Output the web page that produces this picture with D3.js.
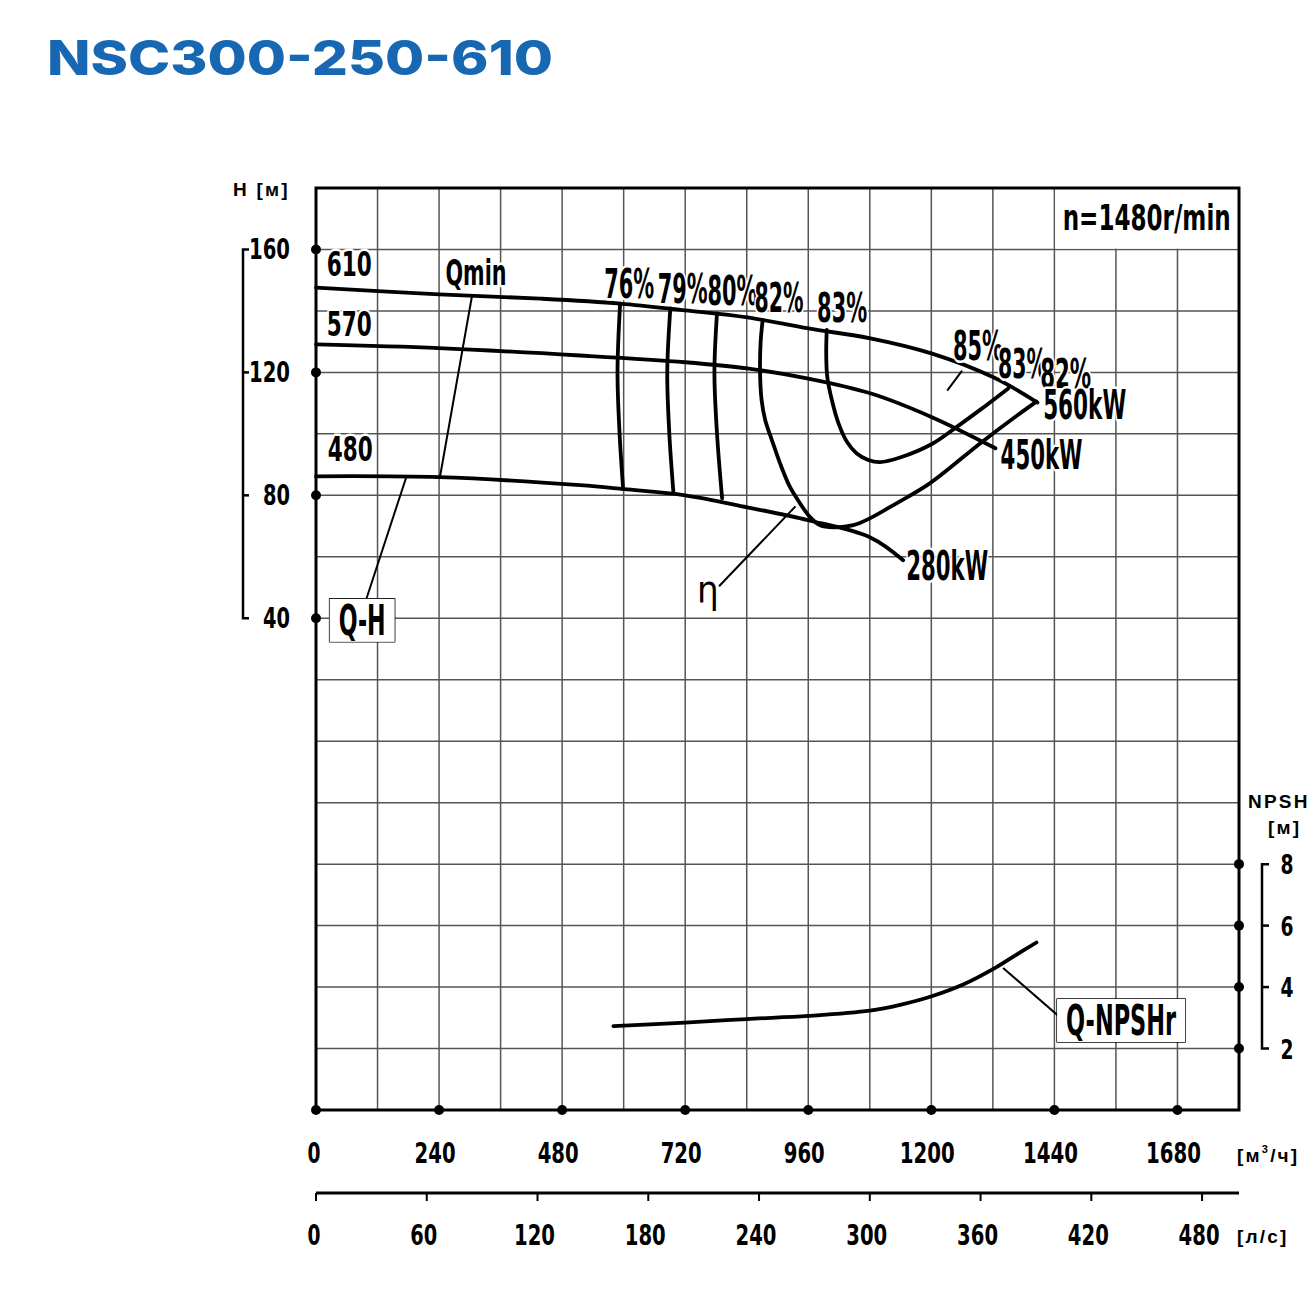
<!DOCTYPE html>
<html>
<head>
<meta charset="utf-8">
<script src="https://cdn.jsdelivr.net/npm/d3@7"></script>
<style>
  body { margin: 0; background: #fff; }
</style>
</head>
<body>
<svg width="1310" height="1295"></svg>
<script>
(function (d3) {
  'use strict';

  // ---- data ----
  const qTicks = [0, 240, 480, 720, 960, 1200, 1440, 1680];      // m3/h
  const lsTicks = [0, 60, 120, 180, 240, 300, 360, 420, 480];    // l/s
  const hTicks = [160, 120, 80, 40];                              // m
  const npshTicks = [8, 6, 4, 2];                                 // m

  // Q-H curves per impeller diameter
  const q610 = [0, 240, 437, 593, 720, 841, 960, 1081, 1200, 1321, 1407];
  const h610 = [147.6, 145.4, 144.0, 142.4, 140.2, 137.9, 134.3, 131.1, 126.2, 118.4, 110.2];
  const q570 = [0, 240, 515, 720, 841, 960, 1081, 1200, 1325];
  const h570 = [129.1, 127.9, 125.5, 123.3, 121.3, 118.0, 113.2, 105.5, 95.3];
  const q480 = [0, 240, 515, 601, 720, 841, 960, 1081, 1145];
  const h480 = [86.2, 85.9, 83.3, 82.0, 80.0, 76.1, 71.9, 66.3, 58.9];

  // iso-efficiency lines
  const q76 = [593, 588, 592, 599];
  const h76 = [142.4, 120, 100.2, 82.0];
  const q79 = [691, 685, 689, 697];
  const h79 = [140.8, 120, 100.2, 81.0];
  const q80 = [782, 777, 782, 792];
  const h80 = [139.2, 120, 100.2, 79.0];
  const q82 = [871, 867, 866, 869, 876, 889, 905, 924, 944, 963, 983, 1009, 1048, 1080, 1132, 1197, 1295, 1360, 1405];
  const h82 = [137.0, 129.5, 119.7, 111.0, 104.5, 98.0, 90.4, 82.8, 77.4, 73.0, 70.3, 69.6, 70.3, 72.5, 77.4, 83.9, 96.9, 105.1, 110.5];
  const q83 = [996, 995, 997, 1006, 1019, 1035, 1054, 1077, 1100, 1139, 1201, 1249, 1295, 1350];
  const h83 = [133.8, 126.2, 118.6, 111.0, 103.4, 97.5, 93.7, 91.5, 90.8, 92.3, 96.7, 102.2, 107.8, 114.8];
  const q85 = [1231, 1260];
  const h85 = [114.1, 120.6];

  // Q-NPSHr
  const qNpsh = [580, 720, 840, 960, 1080, 1139, 1201, 1262, 1321, 1360, 1405];
  const vNpsh = [2.73, 2.84, 2.96, 3.06, 3.23, 3.42, 3.70, 4.08, 4.59, 4.99, 5.45];

  // ---- layout ----
  const svg = d3.select('svg');
  const left = 316, right = 1239, top = 188, bottom = 1110;

  const x = d3.scaleLinear().domain([0, 1800]).range([left, right]);
  const xLs = d3.scaleLinear().domain([0, 500]).range([left, right]);
  const y = d3.scaleLinear().domain([-120, 180]).range([bottom, top]);
  const yN = d3.scaleLinear().domain([0, 30]).range([bottom, top]);

  const narrow = "'Liberation Sans Narrow', 'DejaVu Sans Condensed', sans-serif";
  const wide = "'Liberation Sans', Arial, sans-serif";

  // title
  svg.append('text')
    .attr('x', 47).attr('y', 75)
    .attr('font-family', 'Inter, sans-serif')
    .attr('font-weight', 800)
    .attr('font-size', 48)
    .attr('fill', '#1767b2')
    .attr('textLength', 506)
    .attr('lengthAdjust', 'spacingAndGlyphs')
    .text('NSC300-250-610');

  // grid
  const grid = svg.append('g').attr('stroke', '#555').attr('stroke-width', 1.5);
  grid.selectAll('line.v')
    .data(d3.range(120, 1800, 120))
    .join('line')
      .attr('x1', d => x(d)).attr('x2', d => x(d))
      .attr('y1', top).attr('y2', bottom);
  grid.selectAll('line.h')
    .data(d3.range(-100, 180, 20))
    .join('line')
      .attr('x1', left).attr('x2', right)
      .attr('y1', d => y(d)).attr('y2', d => y(d));

  // blank cell for the speed note
  svg.append('rect')
    .attr('x', x(1440) + 0.8).attr('y', top)
    .attr('width', right - x(1440) - 0.8).attr('height', y(160) - top - 0.8)
    .attr('fill', '#fff');

  // frame
  svg.append('rect')
    .attr('x', left).attr('y', top)
    .attr('width', right - left).attr('height', bottom - top)
    .attr('fill', 'none').attr('stroke', '#000').attr('stroke-width', 3);

  const line = d3.line().curve(d3.curveCatmullRom.alpha(0.5));
  const curves = svg.append('g')
    .attr('fill', 'none').attr('stroke', '#000')
    .attr('stroke-width', 3.8).attr('stroke-linecap', 'round')
    .attr('stroke-linejoin', 'round');

  [[q610, h610], [q570, h570], [q480, h480],
   [q76, h76], [q79, h79], [q80, h80], [q82, h82], [q83, h83]]
    .forEach(([qs, hs]) => {
      curves.append('path')
        .attr('d', line(d3.zip(qs, hs).map(([q, h]) => [x(q), y(h)])));
    });

  curves.append('path')
    .attr('d', line(d3.zip(qNpsh, vNpsh).map(([q, n]) => [x(q), yN(n)])));

  // leader lines
  const leaders = svg.append('g').attr('stroke', '#000').attr('stroke-width', 2);
  const lead = (a, b) => leaders.append('line')
    .attr('x1', a[0]).attr('y1', a[1]).attr('x2', b[0]).attr('y2', b[1]);
  lead([x(q85[0]), y(h85[0])], [x(q85[1]), y(h85[1])]);
  lead([x(304), y(144.7)], [x(242), y(86.2)]);          // Qmin
  lead([x(176), y(85.9)], [x(98), y(46.2)]);            // Q-H
  lead([x(935), y(76.4)], [x(786), y(50.4)]);           // eta
  lead([x(1340), yN(4.62)], [x(1452), yN(3.0)]);        // Q-NPSHr

  // labels inside the plot
  const labels = svg.append('g')
    .attr('font-family', narrow).attr('font-weight', 'bold')
    .attr('text-anchor', 'middle')
    .attr('stroke', '#fff').attr('stroke-width', 5)
    .attr('stroke-linejoin', 'round').attr('paint-order', 'stroke');

  const label = (t, px, py, size, len) => {
    const el = labels.append('text')
      .attr('x', px).attr('y', py)
      .attr('font-size', size).text(t);
    if (len) el.attr('textLength', len).attr('lengthAdjust', 'spacingAndGlyphs');
    return el;
  };

  label('610', x(65), y(151.4), 34, 45);
  label('570', x(65), y(131.8), 34, 45);
  label('480', x(67), y(91.2), 34, 45);
  label('Qmin', x(312), y(148.4), 35, 61);
  label('76%', x(611), y(144.2), 40, 50);
  label('79%', x(715), y(142.6), 40, 50);
  label('80%', x(812), y(141.9), 40, 50);
  label('82%', x(903), y(139.7), 40, 49);
  label('83%', x(1026), y(136.4), 40, 50);
  label('85%', x(1291), y(124.0), 40, 50);
  label('83%', x(1378), y(118.2), 40, 49);
  label('82%', x(1462), y(114.9), 40, 51);
  label('560kW', x(1499), y(104.8), 40, 83);
  label('450kW', x(1415), y(88.6), 40, 82);
  label('280kW', x(1231), y(52.4), 40, 82);
  label('\u03b7', x(764), y(45.0), 38).attr('font-weight', 'normal');
  label('n=1480r/min', x(1620), y(166.3), 35, 168);

  // boxed curve names
  const boxed = (t, px, py, len) => {
    const el = label(t, px, py, 42, len).attr('stroke', 'none');
    const bb = el.node().getBBox();
    labels.insert('rect', () => el.node())
      .attr('x', bb.x - 9).attr('y', bb.y + 3)
      .attr('width', bb.width + 18).attr('height', bb.height - 6)
      .attr('fill', '#fff').attr('stroke', '#000').attr('stroke-width', 1.5);
  };
  boxed('Q-H', x(90), y(34.6), 47);
  boxed('Q-NPSHr', x(1570), yN(2.44), 110);

  // tick label width: about 14 px per digit
  const tickLen = d => String(d).length * 14 - 1;

  // left axis (H)
  const axisStyle = g => g.attr('fill', 'none').attr('stroke', '#000').attr('stroke-width', 2.5);
  svg.append('path').call(axisStyle)
    .attr('d', `M249,${y(160)}H243V${y(40)}H249`);
  svg.append('g').call(axisStyle).selectAll('line')
    .data([120, 80]).join('line')
      .attr('x1', 243).attr('x2', 249)
      .attr('y1', d => y(d)).attr('y2', d => y(d));

  svg.append('g')
    .attr('font-family', narrow).attr('font-weight', 'bold')
    .attr('font-size', 28)
    .attr('text-anchor', 'end')
    .selectAll('text').data(hTicks).join('text')
      .attr('x', 290).attr('y', d => y(d) + 10)
      .attr('textLength', tickLen)
      .attr('lengthAdjust', 'spacingAndGlyphs')
      .text(d => d);

  svg.append('text')
    .attr('x', 233).attr('y', 196)
    .attr('font-family', wide).attr('font-weight', 'bold')
    .attr('font-size', 19).attr('letter-spacing', 2.2)
    .text('H [м]');

  // right axis (NPSH)
  svg.append('path').call(axisStyle)
    .attr('d', `M1269,${yN(8)}H1262V${yN(2)}H1269`);
  svg.append('g').call(axisStyle).selectAll('line')
    .data([6, 4]).join('line')
      .attr('x1', 1262).attr('x2', 1269)
      .attr('y1', d => yN(d)).attr('y2', d => yN(d));

  svg.append('g')
    .attr('font-family', narrow).attr('font-weight', 'bold')
    .attr('font-size', 27).attr('text-anchor', 'middle')
    .selectAll('text').data(npshTicks).join('text')
      .attr('x', 1287).attr('y', d => yN(d) + 10)
      .attr('textLength', 13)
      .attr('lengthAdjust', 'spacingAndGlyphs')
      .text(d => d);

  const unitText = svg.append('g')
    .attr('font-family', wide).attr('font-weight', 'bold')
    .attr('font-size', 19).attr('letter-spacing', 2.2);
  unitText.append('text').attr('x', 1248).attr('y', 808).text('NPSH');
  unitText.append('text').attr('x', 1268).attr('y', 834).text('[м]');

  // bottom axis m3/h
  svg.append('g')
    .attr('font-family', narrow).attr('font-weight', 'bold')
    .attr('font-size', 29)
    .attr('text-anchor', 'middle')
    .selectAll('text').data(qTicks).join('text')
      .attr('x', d => x(d) - (d === 0 ? 2 : 4)).attr('y', 1163)
      .attr('textLength', tickLen)
      .attr('lengthAdjust', 'spacingAndGlyphs')
      .text(d => d);

  const m3 = unitText.append('text').attr('x', 1237).attr('y', 1162);
  m3.append('tspan').text('[м');
  m3.append('tspan').attr('font-size', 11).attr('dy', -9).text('3');
  m3.append('tspan').attr('dy', 9).text('/ч]');

  // bottom axis l/s
  svg.append('line')
    .attr('x1', left).attr('x2', right)
    .attr('y1', 1193).attr('y2', 1193)
    .attr('stroke', '#000').attr('stroke-width', 3);
  svg.append('g').attr('stroke', '#000').attr('stroke-width', 2)
    .selectAll('line').data(lsTicks).join('line')
      .attr('x1', d => xLs(d)).attr('x2', d => xLs(d))
      .attr('y1', 1193).attr('y2', 1201);

  svg.append('g')
    .attr('font-family', narrow).attr('font-weight', 'bold')
    .attr('font-size', 28)
    .attr('text-anchor', 'middle')
    .selectAll('text').data(lsTicks).join('text')
      .attr('x', d => xLs(d) - (d === 0 ? 2 : 3)).attr('y', 1245)
      .attr('textLength', tickLen)
      .attr('lengthAdjust', 'spacingAndGlyphs')
      .text(d => d);

  unitText.append('text').attr('x', 1237).attr('y', 1243).text('[л/с]');

  // axis dots
  const dots = svg.append('g').attr('fill', '#000');
  dots.selectAll('circle.h').data(hTicks).join('circle')
    .attr('cx', left).attr('cy', d => y(d)).attr('r', 5);
  dots.selectAll('circle.q').data(qTicks).join('circle')
    .attr('cx', d => x(d)).attr('cy', bottom).attr('r', 5);
  dots.selectAll('circle.n').data(npshTicks).join('circle')
    .attr('cx', right).attr('cy', d => yN(d)).attr('r', 5);

}(d3));
</script>
</body>
</html>
